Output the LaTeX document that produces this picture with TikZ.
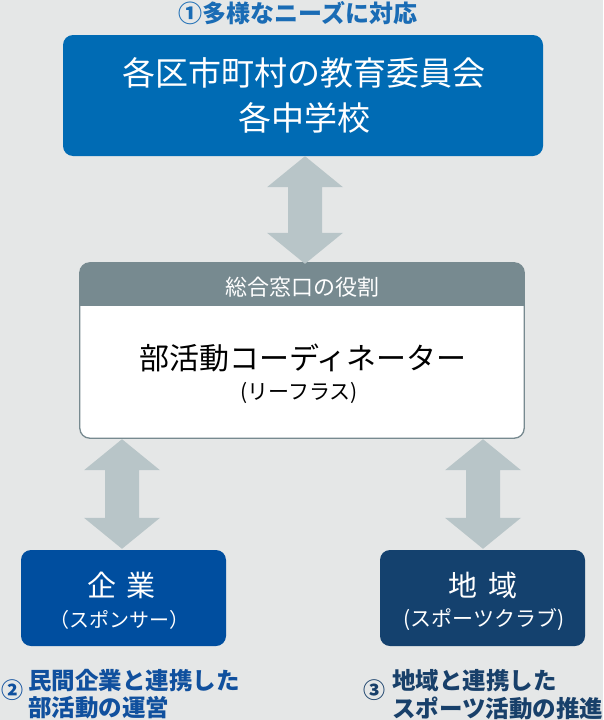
\documentclass[tikz,border=0pt]{standalone}
\usepackage{fontspec}
\setmainfont{Noto Sans CJK JP}
\usetikzlibrary{calc}
\definecolor{bg}{HTML}{E5E7E7}
\definecolor{topblue}{HTML}{006BB4}
\definecolor{arrowgray}{HTML}{B8C5C8}
\definecolor{hdrgray}{HTML}{778A90}
\definecolor{corpblue}{HTML}{004E9F}
\definecolor{areanavy}{HTML}{14416E}
\definecolor{labblue}{HTML}{1A6CB5}
\definecolor{labcorp}{HTML}{10509E}
\definecolor{labarea}{HTML}{18406A}
\newcommand{\fs}[2]{\fontsize{#1}{#2}\selectfont}
\newcommand{\blockarrow}[2]{%
  \fill[arrowgray] (#1) -- ++(38,31) -- ++(-21,0) -- ($(#2)+(17,-31)$) -- ++(21,0)
    -- (#2) -- ++(-38,-31) -- ++(21,0) -- ($(#1)+(-17,31)$) -- ++(-21,0) -- cycle;}
\begin{document}
\begin{tikzpicture}[x=1pt,y=-1pt,
  boxstyle/.style={rectangle, rounded corners=10pt, inner sep=0pt},
  txt/.style={inner sep=0pt, text=white},
  lab/.style={inner sep=0pt, font=\bfseries\fs{23.5}{27}}]
\fill[bg] (0,0) rectangle (603,720);
\useasboundingbox (0,0) rectangle (603,720);

% top box
\node[boxstyle, fill=topblue, minimum width=480pt, minimum height=121pt] (top) at (303,95.5) {};
\node[txt, font=\fs{33}{40}] (top1) at (304,73) {各区市町村の教育委員会};
\node[txt, font=\fs{33}{40}] (top2) at (304,118) {各中学校};

% middle box
\node[boxstyle, fill=white, minimum width=444pt, minimum height=175pt] (mid) at (302,350.5) {};
\fill[hdrgray] ([yshift=-43pt]mid.north west) [rounded corners=10pt] -- (mid.north west) -- (mid.north east) [sharp corners] -- ([yshift=-43pt]mid.north east) -- cycle;
\draw[hdrgray, line width=1.3pt, rounded corners=10pt] (mid.north west) rectangle (mid.south east);
\node[txt, font=\fs{22}{26}] (hdr) at (302,287) {総合窓口の役割};
\node[inner sep=0pt, font=\fs{30}{34}] (coord) at (303,358) {部活動コーディネーター};
\node[inner sep=0pt, font=\fs{21}{25}] (coordsub) at (299,393) {(リーフラス)};

% bottom boxes
\node[boxstyle, fill=corpblue, minimum width=205pt, minimum height=96pt] (corp) at (123.5,598) {};
\node[txt, font=\fs{29}{34}] (corp1) at (121.5,585) {企\hspace{0.35em}業};
\node[txt, font=\fs{20}{24}] (corp2) at (119,620) {（スポンサー）};
\node[boxstyle, fill=areanavy, minimum width=205pt, minimum height=96pt] (area) at (482.5,598) {};
\node[txt, font=\fs{29}{34}] (area1) at (483,585) {地\hspace{0.35em}域};
\node[txt, font=\fs{21}{24}] (area2) at (484,620) {(スポーツクラブ)};

% arrows
\coordinate (a1) at ($(top.south)+(2,0)$);
\coordinate (b1) at ($(mid.north)+(3,1)$);
\coordinate (a2) at ($(mid.south -| corp.north)+(-1.5,1)$);
\coordinate (b2) at ($(corp.north)+(-1.5,-1)$);
\coordinate (a3) at ($(mid.south -| area.north)+(0.5,1)$);
\coordinate (b3) at ($(area.north)+(0.5,-1)$);
\blockarrow{a1}{b1}
\blockarrow{a2}{b2}
\blockarrow{a3}{b3}

% labels
\node[inner sep=0pt, text=labblue, font=\bfseries\fs{24}{28}] (lab1) at (298,13) {①多様なニーズに対応};
\node[inner sep=0pt, text=labcorp, font=\bfseries\fs{22}{26}] (n2) at (12.5,690) {②};
\node[lab, text=labcorp, anchor=west] (lab2a) at (28,681) {民間企業と連携した};
\node[lab, text=labcorp, anchor=west] (lab2b) at (28,708) {部活動の運営};
\node[inner sep=0pt, text=labarea, font=\bfseries\fs{22}{26}] (n3) at (374,690) {③};
\node[lab, text=labarea, anchor=west] (lab3a) at (392,681) {地域と連携した};
\node[lab, text=labarea, anchor=west] (lab3b) at (392,708) {スポーツ活動の推進};
\end{tikzpicture}
\end{document}
